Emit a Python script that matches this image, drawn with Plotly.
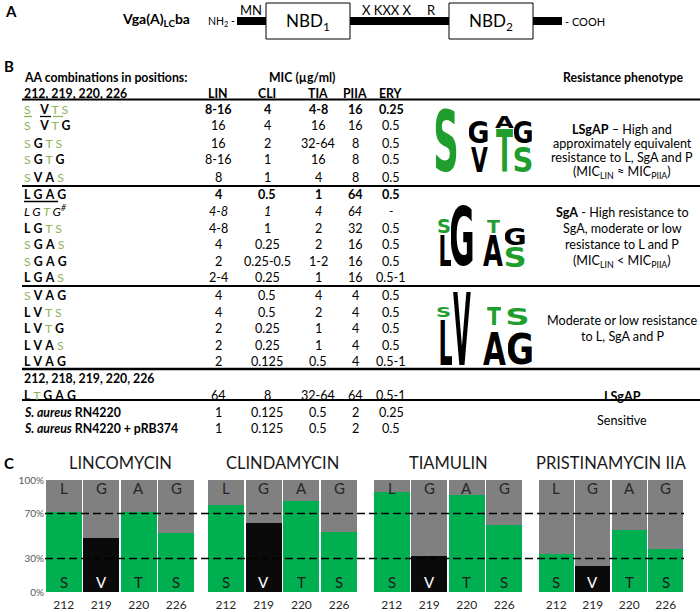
import base64
import plotly.graph_objects as go

W, H = 700, 612
FONT = "Lato, 'Open Sans', sans-serif"
GREEN_T = "#8fb45a"
GREEN_LOGO = "#1f9e2e"
GREEN_BAR = "#00b050"
GREY_BAR = "#808080"
BLACK_BAR = "#0a0a0a"

# ---------------- Panel B data ----------------
combos = ["SVTS", "SVTG", "SGTS", "SGTG", "SVAS",
          "LGAG", "LGTG", "LGTS", "SGAS", "SGAG", "LGAS",
          "SVAG", "LVTS", "LVTG", "LVAS", "LVAG",
          "LTGAG", "S. aureus RN4220", "S. aureus RN4220 + pRB374"]
LIN = ["8-16", "16", "16", "8-16", "8", "4", "4-8", "4-8", "4", "2", "2-4",
       "4", "4", "2", "2", "2", "64", "1", "1"]
CLI = ["4", "4", "2", "1", "1", "0.5", "1", "1", "0.25", "0.25-0.5", "0.25",
       "0.5", "0.5", "0.25", "0.25", "0.125", "8", "0.125", "0.125"]
TIA = ["4-8", "16", "32-64", "16", "4", "1", "4", "2", "2", "1-2", "1",
       "4", "2", "1", "1", "0.5", "32-64", "0.5", "0.5"]
PIIA = ["16", "16", "8", "8", "8", "64", "64", "32", "16", "16", "16",
        "4", "4", "4", "4", "4", "64", "2", "2"]
ERY = ["0.25", "0.5", "0.5", "0.5", "0.5", "0.5", "-", "0.5", "0.5", "0.5", "0.5-1",
       "0.5", "0.5", "0.5", "0.5", "0.5-1", "0.5-1", "0.25", "0.5"]
mic_headers = ["LIN", "CLI", "TIA", "PIIA", "ERY"]

# logos: letters (bottom->top per column)
logo_letters = [
    [("S",), ("V", "G"), ("T", "A"), ("S", "G")],
    [("L", "S"), ("G",), ("A", "T"), ("S", "G")],
    [("L", "S"), ("V",), ("A", "T"), ("G", "S")],
]

# ---------------- Panel C data ----------------
positions = ["212", "219", "220", "226"]
drugs = ["LINCOMYCIN", "CLINDAMYCIN", "TIAMULIN", "PRISTINAMYCIN IIA"]
lin_pct = [71, 48, 71, 53]
cli_pct = [78, 62, 81, 54]
tia_pct = [89, 32, 87, 60]
pii_pct = [34, 23, 55, 38]
lower_letters = ["S", "V", "T", "S"]
upper_letters = ["L", "G", "A", "G"]


def X(px):
    return px / W


def Y(py):
    return 1 - py / H


ann = []
shapes = []
images = []


def T(text, x, y, size=12, color="#000", xanchor="center", yanchor="middle"):
    ann.append(dict(text=text, x=X(x), y=Y(y), xref="paper", yref="paper",
                    showarrow=False, xanchor=xanchor, yanchor=yanchor,
                    font=dict(size=size, color=color, family=FONT)))


def rect(x0, y0, x1, y1, fill, line_color=None, lw=0):
    shapes.append(dict(type="rect", xref="paper", yref="paper",
                       x0=X(x0), x1=X(x1), y0=Y(y0), y1=Y(y1),
                       fillcolor=fill, line=dict(color=line_color or fill, width=lw)))


def hline(x0, x1, y, color="#000", lw=2):
    shapes.append(dict(type="line", xref="paper", yref="paper",
                       x0=X(x0), x1=X(x1), y0=Y(y), y1=Y(y),
                       line=dict(color=color, width=lw), layer="above"))


# ---------------- Panel A ----------------
T("<b>A</b>", 3, 11, size=15, xanchor="left")
T("<b>Vga(A)<sub>LC</sub>ba</b>", 156, 20, size=14)
T("NH<sub>2</sub> -", 221, 22, size=10.5)
rect(237, 17, 562, 25, "#000")
rect(266, 3, 350, 39, "#fff", "#000", 1)
rect(449, 3, 533, 39, "#fff", "#000", 1)
T("NBD<sub>1</sub>", 308, 22, size=17)
T("NBD<sub>2</sub>", 491, 22, size=17)
T("MN", 251, 10, size=13)
T("X KXX X", 387, 10, size=13)
T("R", 431, 10, size=13)
T("- COOH", 563, 22, size=11, xanchor="left")

# ---------------- Panel B ----------------
TS = 12.6
HS = 12.3
T("<b>B</b>", 2, 66, size=15, xanchor="left")
T("<b>AA combinations in positions:</b>", 22, 77, size=HS, xanchor="left")
T("<b>212, 219, 220, 226</b>", 22, 93, size=HS, xanchor="left")
T("<b>MIC (µg/ml)</b>", 302, 77, size=HS)
T("<b>Resistance phenotype</b>", 623, 77, size=HS)
col_x = [218, 267, 318, 355, 391]
for cx, h in zip(col_x, mic_headers):
    T(f"<b>{h}</b>", cx, 93, size=HS)

row_y = [109, 126, 143, 160, 177, 194, 211, 228, 244.5, 261, 278,
         295, 312, 328.5, 345, 361, 395, 412, 428]
bold_rows = {0, 5}
italic_rows = {6}


def combo_html(s, italic=False, wide=False):
    parts = []
    for ch in s:
        if ch in "ST":
            parts.append(f'<span style="color:{GREEN_T}">{ch}</span>')
        else:
            parts.append(ch if italic else f"<b>{ch}</b>")
    txt = parts[0] + ("\u00a0\u00a0 " if wide else " ") + " ".join(parts[1:])
    if italic:
        txt = f"<i>{txt}<sup>#</sup></i>"
    return txt


for i, c in enumerate(combos):
    y = row_y[i]
    if c.startswith("S. aureus"):
        rest = c[len("S. aureus"):]
        T(f"<b><i>S. aureus</i>{rest}</b>", 22, y, size=HS, xanchor="left")
    else:
        T(combo_html(c, italic=i in italic_rows, wide=i in (0, 1)), 22, y,
          size=HS, xanchor="left")
    for cx, col in zip(col_x, [LIN, CLI, TIA, PIIA, ERY]):
        v = col[i]
        if i in bold_rows:
            v = f"<b>{v}</b>"
        elif i in italic_rows:
            v = f"<i>{v}</i>"
        T(v, cx, y, size=TS)

T("<b>212, 218, 219, 220, 226</b>", 22, 378, size=HS, xanchor="left")

# underlines
hline(24, 32, 116.5, GREEN_T, 1.3)
hline(40, 51, 116.5, "#000", 1.3)
hline(53, 63, 116.5, GREEN_T, 1.3)
hline(24, 58, 201.5, "#000", 1.3)

# table rules
hline(22, 700, 99.5, lw=2.2)
hline(22, 700, 186, lw=2)
hline(22, 700, 286, lw=2)
hline(22, 700, 369, lw=2.5)
hline(22, 700, 400, lw=2)

# phenotype text
PS = 12.6
PX = 622
T("<b>LSgAP</b> – High and", PX, 129, size=PS)
T("approximately equivalent", PX, 143.5, size=PS)
T("resistance to L, SgA and P", PX, 158, size=PS)
T("(MIC<sub>LIN</sub> ≈ MIC<sub>PIIA</sub>)", PX, 172, size=PS)
T("<b>SgA</b> - High resistance to", PX, 212, size=PS)
T("SgA, moderate or low", PX, 228, size=PS)
T("resistance to L and P", PX, 244, size=PS)
T("(MIC<sub>LIN</sub> < MIC<sub>PIIA</sub>)", PX, 261, size=PS)
T("Moderate or low resistance", PX, 320, size=PS)
T("to L, SgA and P", PX, 336, size=PS)
T("<b>LSgAP</b>", PX, 396, size=PS)
T("Sensitive", PX, 420, size=PS)

# logos (letters stretched via SVG images)
HALF_W = {"S": 31, "G": 35, "V": 39, "T": 34, "A": 39, "L": 31}
ROUND = {"S", "G"}


def letter_uri(ch, color):
    hw = HALF_W[ch]
    vb = f"{-hw} -74.6 {2 * hw} 76" if ch in ROUND else f"{-hw} -73 {2 * hw} 73"
    dx = 3 if ch == "L" else 0
    svg = (f'<svg xmlns="http://www.w3.org/2000/svg" width="100" height="100" '
           f'viewBox="{vb}" preserveAspectRatio="none">'
           f'<text x="{dx}" y="0" text-anchor="middle" font-family="DejaVu Sans" '
           f'font-weight="bold" font-size="100" fill="{color}">{ch}</text></svg>')
    return "data:image/svg+xml;base64," + base64.b64encode(svg.encode()).decode()


def letter_color(ch):
    return GREEN_LOGO if ch in "ST" else "#000"


logo_boxes = [
    [[(435, 457, 108, 172)],
     [(471, 488, 147, 172), (469, 488, 120, 143)],
     [(496, 513, 129, 172), (495, 514, 116, 128)],
     [(514, 532, 147, 172), (514, 532, 120, 143)]],
    [[(438, 451, 235, 266), (438, 450, 218, 233)],
     [(451, 473, 205, 266)],
     [(483, 503, 235, 266), (487, 500, 220, 233)],
     [(505, 525, 247, 267), (505, 525, 228, 245)]],
    [[(438, 452, 320, 365), (437, 450, 307, 317)],
     [(453, 471, 292, 365)],
     [(483, 506, 332, 365), (487, 501, 307, 325)],
     [(508, 532, 332, 365), (507, 528, 307, 325)]],
]
for letters, boxes in zip(logo_letters, logo_boxes):
    for col_letters, col_boxes in zip(letters, boxes):
        for ch, (x0, x1, y0, y1) in zip(col_letters, col_boxes):
            images.append(dict(source=letter_uri(ch, letter_color(ch)),
                               xref="paper", yref="paper",
                               x=X(x0), y=Y(y0), sizex=(x1 - x0) / W,
                               sizey=(y1 - y0) / H, xanchor="left", yanchor="top",
                               sizing="stretch", layer="above"))

# ---------------- Panel C ----------------
T("<b>C</b>", 2, 463, size=15, xanchor="left")
fig = go.Figure()
group_px = [(45, 195), (207, 358), (373, 523), (538, 684)]
y_top, y_bot = 480, 592
lower_colors = [GREEN_BAR, BLACK_BAR, GREEN_BAR, GREEN_BAR]
lower_text_colors = ["#1a1a1a", "#ffffff", "#1a1a1a", "#1a1a1a"]
layout_axes = {}
for g, (pct, name, (gx0, gx1)) in enumerate(zip([lin_pct, cli_pct, tia_pct, pii_pct],
                                                drugs, group_px)):
    k = "" if g == 0 else str(g + 1)
    lower = [p / 100 for p in pct]
    upper = [1 - v for v in lower]
    fig.add_trace(go.Bar(x=positions, y=lower,
                         marker=dict(color=lower_colors, line=dict(width=0)),
                         xaxis="x" + k, yaxis="y" + k, showlegend=False, hoverinfo="skip"))
    fig.add_trace(go.Bar(x=positions, y=upper,
                         marker=dict(color=GREY_BAR, line=dict(width=0)),
                         xaxis="x" + k, yaxis="y" + k, showlegend=False, hoverinfo="skip"))
    layout_axes["xaxis" + k] = dict(domain=[X(gx0), X(gx1)], anchor="y" + k,
                                    type="category", range=[-0.5, 3.5], autorange=False,
                                    automargin=False,
                                    showgrid=False, showline=False, zeroline=False,
                                    ticks="outside", ticklen=2, tickcolor="rgba(0,0,0,0)",
                                    tickfont=dict(size=12, color="#262626", family=FONT),
                                    fixedrange=True)
    layout_axes["yaxis" + k] = dict(domain=[Y(y_bot), Y(y_top)], anchor="x" + k,
                                    range=[0, 1], autorange=False, automargin=False,
                                    showgrid=False, zeroline=False, showline=False,
                                    tickvals=[0, 0.3, 0.7, 1],
                                    ticktext=["0%", "30%", "70%", "100%"],
                                    showticklabels=(g == 0), ticks="",
                                    tickfont=dict(size=10, color="#595959", family=FONT),
                                    fixedrange=True)
    T(name, (gx0 + gx1) / 2, 463, size=16.5, color="#1a1a1a")
    for j, (lt, ut, tc) in enumerate(zip(lower_letters, upper_letters, lower_text_colors)):
        ann.append(dict(text=lt, x=j, y=0.085, xref="x" + k, yref="y" + k, showarrow=False,
                        font=dict(size=15, color=tc, family=FONT)))
        ann.append(dict(text=ut, x=j, y=0.925, xref="x" + k, yref="y" + k, showarrow=False,
                        font=dict(size=15, color="#262626", family=FONT)))

for lvl in (0.7, 0.3):
    shapes.append(dict(type="line", xref="paper", yref="y", x0=X(45), x1=X(684),
                       y0=lvl, y1=lvl, line=dict(color="#000", width=1.5, dash="8px,4px"),
                       layer="above"))

fig.update_layout(
    template="none",
    width=W, height=H, margin=dict(l=0, r=0, t=0, b=0, pad=0, autoexpand=False),
    paper_bgcolor="white", plot_bgcolor="white",
    barmode="stack", bargap=0.05, showlegend=False,
    annotations=ann, shapes=shapes, images=images,
    font=dict(family=FONT, color="#000"),
    **layout_axes,
)
post = ("document.documentElement.style.margin='0';"
        "document.body.style.margin='0';document.body.style.overflow='hidden';"
        "var d=document.getElementById('{plot_id}');"
        "d.style.position='fixed';d.style.top='0px';d.style.left='0px';")
fig.write_html("out.html", config={"displayModeBar": False}, post_script=post)
